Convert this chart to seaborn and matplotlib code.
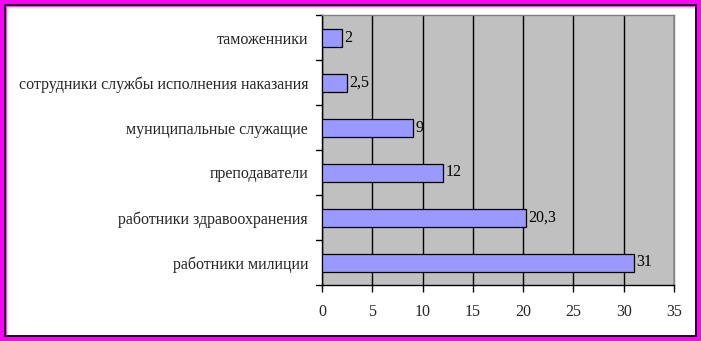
import matplotlib
matplotlib.use("Agg")
import matplotlib.pyplot as plt
from matplotlib.patches import Rectangle
import seaborn as sns
import pandas as pd

categories = [
    "таможенники",
    "сотрудники службы исполнения наказания",
    "муниципальные служащие",
    "преподаватели",
    "работники здравоохранения",
    "работники милиции",
]
values = [2, 2.5, 9, 12, 20.3, 31]
value_labels = ["2", "2,5", "9", "12", "20,3", "31"]
x_ticks = [0, 5, 10, 15, 20, 25, 30, 35]

df = pd.DataFrame({"group": categories, "value": values})

sns.set_theme(style="white")
plt.rcParams["font.family"] = ["Liberation Serif", "DejaVu Serif"]

fs = 11.5

fig = plt.figure(figsize=(7.01, 3.41), dpi=100)
fig.patch.set_facecolor("white")

ax = fig.add_axes([322 / 701, 56 / 341, 352 / 701, 270 / 341])
ax.set_facecolor("#C0C0C0")

sns.barplot(data=df, y="group", x="value", orient="h", color="#9999FF",
            saturation=1, width=0.4, edgecolor="black", linewidth=0.9,
            ax=ax, zorder=3)

ax.set_xlim(0, 35)
ax.set_ylim(len(categories) - 0.5, -0.5)
ax.set_xticks(x_ticks)
ax.set_xticklabels([str(t) for t in x_ticks], fontsize=fs)
ax.xaxis.grid(True, color="black", linewidth=1)
ax.set_axisbelow(True)

# category labels on the bars, boundary tick marks between them
ax.set_yticks(range(len(categories)))
ax.set_yticklabels(categories, fontsize=fs)
ax.tick_params(axis="y", length=0, pad=10)
for b in [i - 0.5 for i in range(len(categories) + 1)]:
    ax.plot([-0.018, 0], [b, b], transform=ax.get_yaxis_transform(),
            color="black", linewidth=1, clip_on=False)
ax.tick_params(axis="x", length=5, width=1, color="black", direction="out",
               pad=9, bottom=True)

ax.set_xlabel("")
ax.set_ylabel("")

for i, (v, lab) in enumerate(zip(values, value_labels)):
    ax.text(v + 0.25, i, lab, va="center", ha="left", fontsize=fs, color="black")

for side in ["left", "bottom"]:
    ax.spines[side].set_color("black")
    ax.spines[side].set_linewidth(1)
for side in ["top", "right"]:
    ax.spines[side].set_color("#808080")
    ax.spines[side].set_linewidth(1)

# frame around the figure
fig.patches.append(Rectangle((0, 0), 1, 1, transform=fig.transFigure,
                             fill=False, edgecolor="#FF00FF", linewidth=9))
fig.patches.append(Rectangle((5 / 701, 5 / 341), 691 / 701, 331 / 341,
                             transform=fig.transFigure, fill=False,
                             edgecolor="black", linewidth=1.2))

fig.savefig("out.png", dpi=100)
